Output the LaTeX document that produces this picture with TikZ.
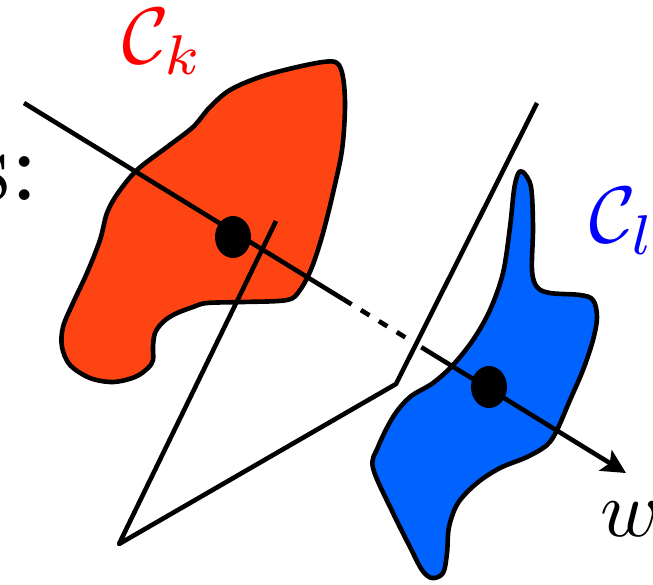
\documentclass[tikz,border=0pt]{standalone}
\usepackage{amsmath, amssymb}
\usepackage{xcolor}
\usepackage{tikz}
\usetikzlibrary{positioning, arrows.meta, calc, shapes.geometric}
\definecolor{kred}{RGB}{255,68,20}
\definecolor{lblue}{RGB}{0,98,255}
\definecolor{labred}{RGB}{255,0,0}
\definecolor{labblue}{RGB}{0,0,255}

\begin{document}
\begin{tikzpicture}[x=1pt, y=-1pt,
    every node/.style={inner sep=0pt},
    blob/.style={draw=black, line width=4.6pt, line join=round},
    axisline/.style={black, line width=4.6pt},
    plane/.style={black, line width=4.6pt, line join=round},
    centroid/.style={ellipse, fill=black, minimum width=36pt, minimum height=42pt},
    biglabel/.style={scale=8}]
    \useasboundingbox (0,0) rectangle (653,584);

    % Cluster k (red)
    \draw[blob, fill=kred] plot[smooth cycle, tension=0.55] coordinates {
      (287,300) (243,302) (207,303) (193,307) (175,314) (163,322) (155,333)
      (153,347) (153,360) (148,368) (135,377) (113,382) (90,378) (70,365)
      (62,347) (63,327) (73,303) (87,273) (100,240) (107,213) (118,193)
      (137,170) (167,147) (193,127) (210,107) (230,90) (260,77) (293,68)
      (323,62) (337,63) (343,77) (345,107) (342,150) (333,193) (323,233)
      (312,267) (300,290)};

    % Projection axis w
    \coordinate (ax0) at (24,103);
    \coordinate (ax1) at (626,473);
    \coordinate (dash0) at ($(ax0)!0.530!(ax1)$);
    \coordinate (dash1) at ($(ax0)!0.640!(ax1)$);
    \coordinate (back0) at ($(ax0)!0.660!(ax1)$);
    \draw[axisline] (ax0) -- (dash0);
    \draw[axisline, dash pattern=on 10pt off 11pt] (dash0) -- (dash1);

    % Hyperplane
    \coordinate (p1) at (537,103);
    \coordinate (p2) at (396,384);
    \coordinate (p3) at (119,544);
    \coordinate (p4) at (276,221);
    \draw[plane] (p1) -- (p2) -- (p3) -- (p4);

    % Cluster l (blue)
    \draw[blob, fill=lblue] plot[smooth cycle, tension=0.55] coordinates {
      (523,172) (531,187) (533,227) (532,270) (537,287) (550,293) (580,295)
      (593,300) (597,317) (593,340) (583,370) (570,400) (557,430) (547,445)
      (527,457) (500,468) (477,483) (458,503) (449,527) (447,553) (443,573)
      (432,578) (422,570) (410,547) (393,513) (373,468) (378,447) (393,417)
      (410,397) (433,383) (453,365) (473,340) (490,310) (503,273) (510,227)
      (514,190) (518,174)};

    \draw[axisline, -{Stealth[length=24pt, width=24pt, inset=5pt]}] (back0) -- (ax1);

    % Centroids
    \node[centroid] (mk) at (233,237) {};
    \node[centroid] (ml) at (489,387) {};

    % Labels
    \node[biglabel, text=labred, anchor=base west] (lk) at (121,63) {$\mathcal{C}_k$};
    \node[biglabel, text=labblue, anchor=base west] (ll) at (588,242) {$\mathcal{C}_l$};
    \node[biglabel, anchor=base west] (lw) at (599,536) {$w$};
    \node[scale=10.2, anchor=base east] (ls) at (41,200) {s:};
\end{tikzpicture}
\end{document}
